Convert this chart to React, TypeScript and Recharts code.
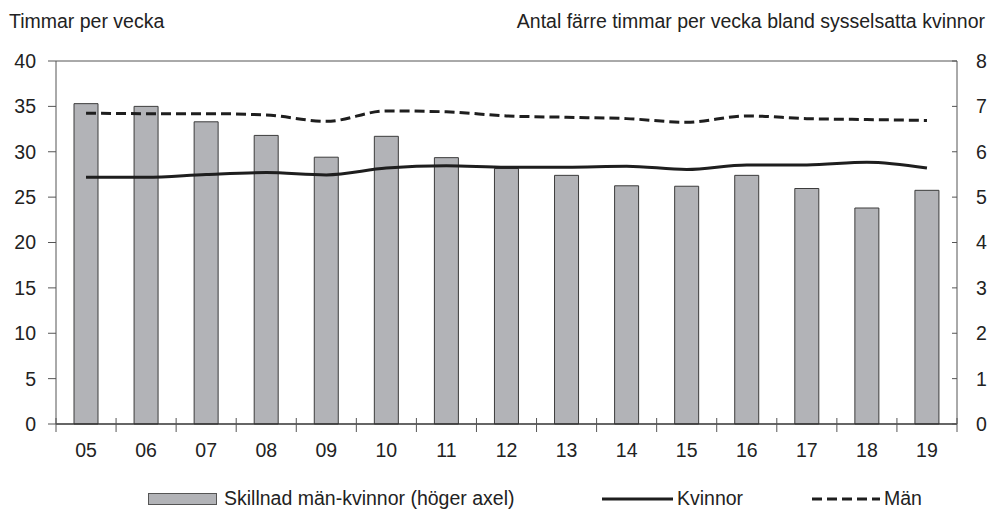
import React from 'react'
import {
  ComposedChart,
  Bar,
  Line,
  XAxis,
  YAxis,
  ReferenceLine,
} from 'recharts'

const years = ['05', '06', '07', '08', '09', '10', '11', '12', '13', '14', '15', '16', '17', '18', '19']
// Skillnad män-kvinnor (höger axel)
const skillnad = [7.06, 7.0, 6.66, 6.36, 5.88, 6.34, 5.87, 5.63, 5.48, 5.25, 5.24, 5.48, 5.19, 4.76, 5.15]
const kvinnor = [27.2, 27.2, 27.5, 27.7, 27.45, 28.2, 28.45, 28.3, 28.3, 28.4, 28.05, 28.55, 28.55, 28.85, 28.2]
const man = [34.25, 34.2, 34.2, 34.05, 33.35, 34.5, 34.4, 33.95, 33.8, 33.65, 33.25, 33.95, 33.65, 33.55, 33.45]

const leftTicks = [0, 5, 10, 15, 20, 25, 30, 35, 40]
const rightTicks = [0, 1, 2, 3, 4, 5, 6, 7, 8]

const data = years.map((year, i) => ({
  year,
  skillnad: skillnad[i],
  kvinnor: kvinnor[i],
  man: man[i],
}))

const W = 993
const H = 509
const LEFT_W = 56
const RIGHT_W = 36
const BAND = (W - LEFT_W - RIGHT_W) / years.length
const FONT = '"Liberation Sans", Arial, sans-serif'
const TEXT = '#222'
const AXIS = '#555'

const XTick = (props: any) => {
  const { x, y, payload, index } = props
  const half = BAND / 2
  return (
    <g>
      <line x1={x - half} x2={x - half} y1={y - 6} y2={y + 8} stroke={AXIS} />
      {index === years.length - 1 && (
        <line x1={x + half} x2={x + half} y1={y - 6} y2={y + 8} stroke={AXIS} />
      )}
      <text x={x} y={y + 33} textAnchor="middle" fontSize={19.5} fill={TEXT} fontFamily={FONT}>
        {payload.value}
      </text>
    </g>
  )
}

const RightTick = (props: any) => {
  const { x, y, payload } = props
  return (
    <g>
      <line x1={x - 5} x2={x} y1={y} y2={y} stroke={AXIS} />
      <text x={x + 19} y={y} dy="0.355em" textAnchor="start" fontSize={19.5} fill={TEXT} fontFamily={FONT}>
        {payload.value}
      </text>
    </g>
  )
}

const legendText: React.CSSProperties = {
  position: 'absolute',
  top: 488,
  fontSize: 19.5,
  lineHeight: '20px',
  color: TEXT,
  whiteSpace: 'nowrap',
}

export default function App() {
  return (
    <div style={{ position: 'relative', width: W, height: H, fontFamily: FONT, background: '#fff' }}>
      <style>{'body{margin:0}'}</style>
      <div style={{ position: 'absolute', left: 9, top: 10, fontSize: 19.5, color: TEXT, whiteSpace: 'nowrap' }}>
        Timmar per vecka
      </div>
      <div style={{ position: 'absolute', right: 8, top: 10, fontSize: 19.5, color: TEXT, whiteSpace: 'nowrap' }}>
        Antal färre timmar per vecka bland sysselsatta kvinnor
      </div>

      <ComposedChart
        width={W}
        height={H}
        data={data}
        margin={{ top: 61, right: 0, bottom: 40, left: 0 }}
        barCategoryGap={0}
      >
        <XAxis
          dataKey="year"
          height={45}
          tickLine={false}
          tickSize={0}
          tickMargin={0}
          axisLine={{ stroke: '#333', strokeWidth: 1.5 }}
          tick={<XTick />}
          interval={0}
        />
        <YAxis
          yAxisId="left"
          orientation="left"
          width={LEFT_W}
          domain={[0, 40]}
          ticks={leftTicks}
          interval={0}
          tickSize={8}
          tickMargin={12}
          axisLine={{ stroke: AXIS }}
          tickLine={{ stroke: AXIS }}
          tick={{ fontSize: 19.5, fill: TEXT, fontFamily: FONT }}
        />
        <YAxis
          yAxisId="right"
          orientation="right"
          width={RIGHT_W}
          domain={[0, 8]}
          ticks={rightTicks}
          interval={0}
          tickLine={false}
          tickSize={0}
          tickMargin={0}
          axisLine={{ stroke: AXIS }}
          tick={<RightTick />}
        />
        <ReferenceLine yAxisId="left" y={40} stroke={AXIS} />
        <Bar
          yAxisId="right"
          dataKey="skillnad"
          name="Skillnad män-kvinnor (höger axel)"
          barSize={24}
          fill="#b2b3b7"
          stroke="#3c3c3c"
          strokeWidth={1}
          isAnimationActive={false}
        />
        <Line
          yAxisId="left"
          type="monotone"
          dataKey="kvinnor"
          name="Kvinnor"
          stroke="#1e1e1e"
          strokeWidth={3}
          dot={false}
          activeDot={false}
          isAnimationActive={false}
        />
        <Line
          yAxisId="left"
          type="monotone"
          dataKey="man"
          name="Män"
          stroke="#1e1e1e"
          strokeWidth={3}
          strokeDasharray="10 5"
          dot={false}
          activeDot={false}
          isAnimationActive={false}
        />
      </ComposedChart>

      {/* legend */}
      <svg style={{ position: 'absolute', left: 0, top: 480 }} width={W} height={29}>
        <rect x={148.5} y={13.5} width={68} height={11} fill="#b2b3b7" stroke="#555" />
        <line x1={602} x2={673} y1={19} y2={19} stroke="#1e1e1e" strokeWidth={3} />
        <line x1={812} x2={880} y1={19} y2={19} stroke="#1e1e1e" strokeWidth={3} strokeDasharray="10 5" />
      </svg>
      <div style={{ ...legendText, left: 224 }}>Skillnad män-kvinnor (höger axel)</div>
      <div style={{ ...legendText, left: 677 }}>Kvinnor</div>
      <div style={{ ...legendText, left: 884 }}>Män</div>
    </div>
  )
}
